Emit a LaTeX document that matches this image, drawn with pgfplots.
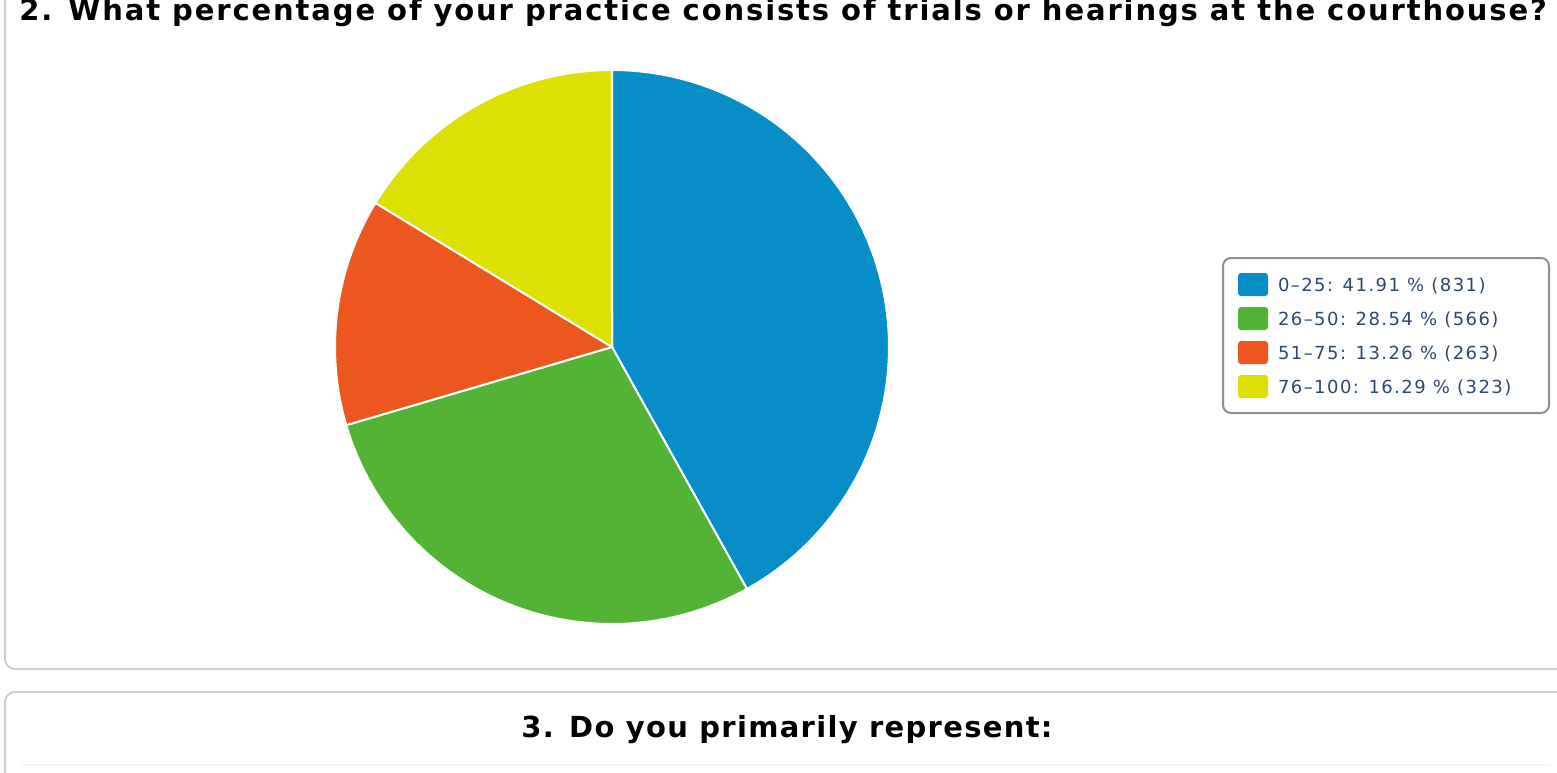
\documentclass[border=0pt]{standalone}
\usepackage{fontspec}
\setmainfont{DejaVu Sans}
\newfontfamily\legfont{DejaVu Sans}[LetterSpace=8]
\newfontfamily\titfont{DejaVu Sans}[LetterSpace=6.5]
\newfontfamily\titfontb{DejaVu Sans}[LetterSpace=4.5]
\usepackage{pgfplots}
\pgfplotsset{compat=1.18}
\usepackage{pgfplotstable}

\definecolor{cA}{HTML}{078EC8}
\definecolor{cB}{HTML}{52B335}
\definecolor{cC}{HTML}{EE561F}
\definecolor{cD}{HTML}{DDE000}
\definecolor{legtext}{HTML}{2C4A6E}
\definecolor{legborder}{HTML}{8F8F8F}
\definecolor{panel}{HTML}{CFCFCF}

\pgfplotstableread{
idx count
0 831
1 566
2 263
3 323
}\piedata

\pgfplotstablegetelem{0}{count}\of\piedata \let\nA\pgfplotsretval
\pgfplotstablegetelem{1}{count}\of\piedata \let\nB\pgfplotsretval
\pgfplotstablegetelem{2}{count}\of\piedata \let\nC\pgfplotsretval
\pgfplotstablegetelem{3}{count}\of\piedata \let\nD\pgfplotsretval
\pgfmathsetmacro\total{\nA+\nB+\nC+\nD}
\pgfmathsetmacro\aA{90}
\pgfmathsetmacro\aB{\aA-360*(\nA/\total)}
\pgfmathsetmacro\aC{\aB-360*(\nB/\total)}
\pgfmathsetmacro\aD{\aC-360*(\nC/\total)}
\pgfmathsetmacro\aE{\aD-360*(\nD/\total)}

\newcommand\lent[1]{\makebox[128pt][l]{#1}}

\begin{document}
\begin{tikzpicture}[x=0.5pt,y=0.5pt]
\path[use as bounding box] (0,0) rectangle (1557,772);
\begin{scope}
\clip (0,0) rectangle (1557,772);
\draw[panel, line width=1pt, rounded corners=5pt] (5,103) rectangle (1700,1000);
\draw[panel, line width=1pt, rounded corners=5pt] (5,80) rectangle (1700,-300);
\draw[gray!8, line width=1pt] (22,7) -- (1550,7);
\end{scope}

\node[anchor=base west, inner sep=0pt, font=\titfont\fontsize{14.5pt}{17pt}\selectfont\bfseries]
  at (19,751) {2. What percentage of your practice consists of trials or hearings at the courthouse?};
\node[anchor=base, inner sep=0pt, font=\titfontb\fontsize{14.5pt}{17pt}\selectfont\bfseries]
  at (787,34.3) {3. Do you primarily represent:};

\begin{axis}[
  at={(306pt,212.5pt)}, anchor=center,
  width=277pt, height=277pt, scale only axis,
  hide axis, xmin=-1, xmax=1, ymin=-1, ymax=1,
  clip=false,
  legend image code/.code={\path[#1, draw=none, rounded corners=1.5pt] (0pt,-4.75pt) rectangle (15pt,6.75pt);},
  legend style={at={(axis cs:2.2022,0.3249)}, anchor=north west,
    draw=legborder, line width=1pt, rounded corners=4pt,
    font=\legfont\fontsize{9pt}{11pt}\selectfont, text=legtext,
    inner xsep=7.5pt, inner ysep=7.5pt,
    column sep=5pt, row sep=5.5pt,
    nodes={inner sep=0pt}},
  legend cell align=left,
]
\addplot[fill=cA, draw=white, line width=1pt, domain=\aB:\aA, samples=120]
  ({cos(x)},{sin(x)}) -- (axis cs:0,0) -- cycle;
\addlegendentry{\lent{0–25: 41.91 \% (831)}}
\addplot[fill=cB, draw=white, line width=1pt, domain=\aC:\aB, samples=90]
  ({cos(x)},{sin(x)}) -- (axis cs:0,0) -- cycle;
\addlegendentry{\lent{26–50: 28.54 \% (566)}}
\addplot[fill=cC, draw=white, line width=1pt, domain=\aD:\aC, samples=60]
  ({cos(x)},{sin(x)}) -- (axis cs:0,0) -- cycle;
\addlegendentry{\lent{51–75: 13.26 \% (263)}}
\addplot[fill=cD, draw=white, line width=1pt, domain=\aE:\aD, samples=60]
  ({cos(x)},{sin(x)}) -- (axis cs:0,0) -- cycle;
\addlegendentry{\lent{76–100: 16.29 \% (323)}}
\end{axis}
\end{tikzpicture}
\end{document}
